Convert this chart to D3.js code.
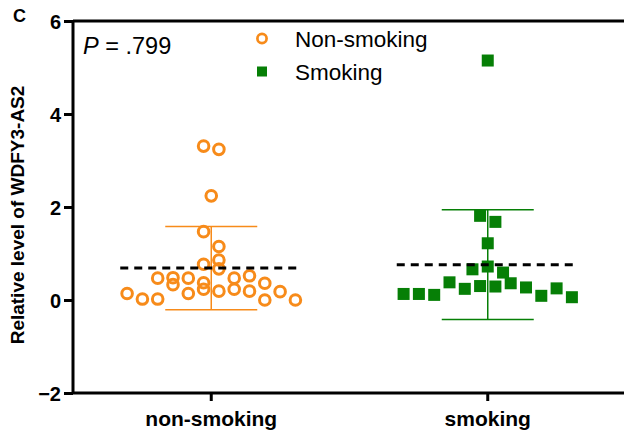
<!DOCTYPE html>
<html>
<head>
<meta charset="utf-8">
<script src="https://cdn.jsdelivr.net/npm/d3@7"></script>
<style>
  html, body { margin: 0; padding: 0; background: #fff; }
  svg { display: block; font-family: "Liberation Sans", Arial, sans-serif; }
</style>
</head>
<body>
<svg id="chart" width="624" height="433"></svg>
<script>
// Relative expression of WDFY3-AS2, grouped by smoking status
const groups = ["non-smoking", "smoking"];
const legendLabels = ["Non-smoking", "Smoking"];
const nonSmoking = [
  0.14, 0.02, 0.02, 0.33, 0.14, 0.23, 0.19, 0.23, 0.19, 0.00, 0.18, 0.00,
  0.47, 0.48, 0.47, 0.37, 0.67, 0.47, 0.52, 0.36,
  0.77, 0.86,
  1.47, 1.15,
  2.24,
  3.31, 3.24
];
const smoking = [
  0.13, 0.13, 0.11, 0.38, 0.24, 0.30, 0.29, 0.36, 0.27, 0.09, 0.25, 0.06,
  0.66, 0.72, 0.59,
  1.22,
  1.81, 1.68,
  5.15
];
const yTicks = [-2, 0, 2, 4, 6];
const pValueText = " = .799";

const ORANGE = "#f78b1a";
const GREEN = "#067f06";

const svg = d3.select("#chart");
const margin = { left: 73, top: 21, bottom: 393, right: 626 };

const x = d3.scaleBand().domain(groups).range([margin.left, margin.right]).padding(0);
const y = d3.scaleLinear().domain([-2, 6]).range([margin.bottom, margin.top]);

// Scatter spread: points are grouped into rows whose height is about one symbol,
// and each row is laid out side by side around the group centre in data order.
const STEP = 15.3;      // horizontal spacing between neighbouring symbols
const ROW_PX = 16;      // vertical extent of one row
function spread(values) {
  const order = values.map((v, i) => ({ v, i })).sort((a, b) => a.v - b.v);
  const rows = [];
  let cur = null;
  order.forEach(p => {
    if (!cur || y(cur.start) - y(p.v) >= ROW_PX) {
      cur = { start: p.v, pts: [] };
      rows.push(cur);
    }
    cur.pts.push(p);
  });
  const out = [];
  rows.forEach(r => {
    r.pts.sort((a, b) => a.i - b.i);
    const n = r.pts.length;
    r.pts.forEach((p, k) => out.push({ v: p.v, dx: (k - (n - 1) / 2) * STEP }));
  });
  return out;
}

function stats(values) {
  return { mean: d3.mean(values), sd: d3.deviation(values) };
}

const series = [
  { key: groups[0], values: nonSmoking, color: ORANGE, shape: "circle" },
  { key: groups[1], values: smoking, color: GREEN, shape: "square" }
];

// Error bars (mean ± SD)
series.forEach(s => {
  const cx = x(s.key) + x.bandwidth() / 2;
  const st = stats(s.values);
  const g = svg.append("g").attr("stroke", s.color).attr("stroke-width", 1.5).attr("fill", "none");
  g.append("line").attr("x1", cx).attr("x2", cx).attr("y1", y(st.mean + st.sd)).attr("y2", y(st.mean - st.sd));
  [st.mean + st.sd, st.mean - st.sd].forEach(v => {
    g.append("line").attr("x1", cx - 46).attr("x2", cx + 46).attr("y1", y(v)).attr("y2", y(v));
  });
});

// Individual samples
series.forEach(s => {
  const cx = x(s.key) + x.bandwidth() / 2;
  const pts = spread(s.values);
  const g = svg.append("g");
  if (s.shape === "circle") {
    g.selectAll("circle").data(pts).join("circle")
      .attr("cx", d => cx + d.dx).attr("cy", d => y(d.v)).attr("r", 5.3)
      .attr("fill", "none").attr("stroke", s.color).attr("stroke-width", 3);
  } else {
    const side = 12;
    g.selectAll("rect").data(pts).join("rect")
      .attr("x", d => cx + d.dx - side / 2).attr("y", d => y(d.v) - side / 2)
      .attr("width", side).attr("height", side).attr("fill", s.color);
  }
});

// Group means
series.forEach(s => {
  const cx = x(s.key) + x.bandwidth() / 2;
  const st = stats(s.values);
  svg.append("line")
    .attr("x1", cx - 91).attr("x2", cx + 91).attr("y1", y(st.mean)).attr("y2", y(st.mean))
    .attr("stroke", "#000").attr("stroke-width", 3).attr("stroke-dasharray", "8,6");
});

// Top edge of the plot frame
svg.append("line").attr("x1", margin.left).attr("x2", margin.right)
  .attr("y1", margin.top).attr("y2", margin.top).attr("stroke", "#000").attr("stroke-width", 3);

// Axes
const yAxis = svg.append("g").attr("transform", `translate(${margin.left},0)`)
  .call(d3.axisLeft(y).tickValues(yTicks).tickSize(9).tickPadding(3).tickFormat(d3.format("d")));
const xAxis = svg.append("g").attr("transform", `translate(0,${margin.bottom})`)
  .call(d3.axisBottom(x).tickSize(8).tickPadding(6));
[yAxis, xAxis].forEach(a => {
  a.select(".domain").attr("stroke-width", 3).attr("stroke", "#000");
  a.selectAll(".tick line").attr("stroke-width", 3).attr("stroke", "#000");
  a.selectAll(".tick text").attr("fill", "#000").attr("font-weight", "bold")
    .attr("font-family", "Liberation Sans, Arial, sans-serif");
});
yAxis.select(".domain").attr("d", `M0,${margin.bottom}V${margin.top}`);
xAxis.select(".domain").attr("d", `M${margin.left},0H${margin.right}`);
yAxis.selectAll(".tick text").attr("font-size", 20).attr("dy", "0.35em");
xAxis.selectAll(".tick text").attr("font-size", 21).attr("dy", "0.9em");

// Axis title
svg.append("text")
  .attr("transform", `translate(24,${(margin.top + margin.bottom) / 2 + 8}) rotate(-90)`)
  .attr("text-anchor", "middle").attr("font-size", 19).attr("font-weight", "bold")
  .text("Relative level of WDFY3-AS2");

// Panel letter
svg.append("text").attr("x", 13).attr("y", 22).attr("font-size", 18).attr("font-weight", "bold").text("C");

// P value
const pt = svg.append("text").attr("x", 83).attr("y", 54).attr("font-size", 23.5);
pt.append("tspan").attr("font-style", "italic").text("P");
pt.append("tspan").text(pValueText);

// Legend
const lg = svg.append("g");
lg.append("circle").attr("cx", 262).attr("cy", 38.5).attr("r", 4.6)
  .attr("fill", "none").attr("stroke", ORANGE).attr("stroke-width", 2.7);
lg.append("rect").attr("x", 257).attr("y", 66.5).attr("width", 10).attr("height", 10).attr("fill", GREEN);
lg.selectAll("text").data(legendLabels).join("text")
  .attr("x", 295).attr("y", (d, i) => 47 + i * 33).attr("font-size", 22.5).text(d => d);
</script>
</body>
</html>
